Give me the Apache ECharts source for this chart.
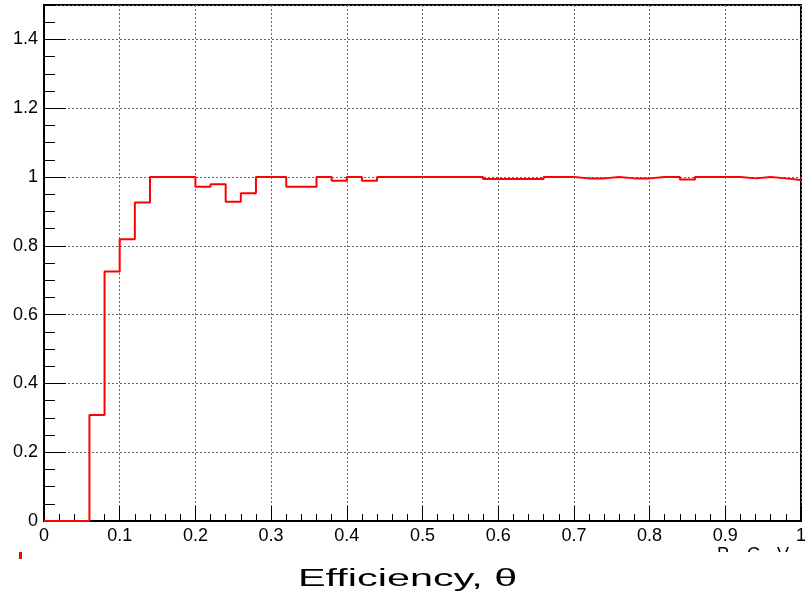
<!DOCTYPE html>
<html><head><meta charset="utf-8">
<script src="https://cdn.jsdelivr.net/npm/echarts@6/dist/echarts.min.js"></script>
<style>html,body{margin:0;padding:0;background:#fff}#c{width:809px;height:597px}</style>
</head><body><div id="c"></div>
<script>
const binEdges = [0.00,0.02,0.04,0.06,0.08,0.10,0.12,0.14,0.16,0.18,
  0.20,0.22,0.24,0.26,0.28,0.30,0.32,0.34,0.36,0.38,
  0.40,0.42,0.44,0.46,0.48,0.50,0.52,0.54,0.56,0.58,
  0.60,0.62,0.64,0.66,0.68,0.70,0.72,0.74,0.76,0.78,
  0.80,0.82,0.84,0.86,0.88,0.90,0.92,0.94,0.96,0.98,1.00];
const efficiency = [0,0,0,0.308,0.725,0.819,0.926,1,1,1,
  0.972,0.979,0.928,0.953,1,1,0.972,0.972,1,0.989,
  1,0.989,1,1,1,1,1,1,1,0.994,
  0.994,0.994,0.994,1,1,0.996,0.996,1,0.996,0.996,
  1,1,0.993,1,1,1,0.996,1,0.996,0.991];
const xTickLabels = ['0','0.1','0.2','0.3','0.4','0.5','0.6','0.7','0.8','0.9','1'];
const yTickLabels = ['0','0.2','0.4','0.6','0.8','1','1.2','1.4'];
const xTitle = 'Efficiency, \u03b8';

const pts = [];
for (let i = 0; i < efficiency.length; i++) pts.push([binEdges[i], efficiency[i]]);
pts.push([binEdges[binEdges.length-1], efficiency[efficiency.length-1]]);

const FONT = 'Liberation Sans';
const chart = echarts.init(document.getElementById('c'), null, {renderer:'canvas'});
chart.setOption({
  animation:false,
  backgroundColor:'#fff',
  grid:{left:44,right:4,top:5,bottom:76,show:true,borderColor:'#000',borderWidth:2,backgroundColor:'transparent'},
  xAxis:{type:'value',min:0,max:1,interval:0.1,
    axisLine:{lineStyle:{color:'#000',width:2}},
    axisTick:{inside:true,length:15,lineStyle:{color:'#000',width:1}},
    minorTick:{show:true,splitNumber:5,length:7,lineStyle:{color:'#000',width:1}},
    splitLine:{show:true,lineStyle:{color:'#666',width:1,type:[2,2]}},
    axisLabel:{margin:6,color:'#000',fontFamily:FONT,fontSize:18,
      formatter:v=>{const k=Math.round(v/0.1);return Math.abs(k*0.1-v)<1e-6&&xTickLabels[k]!==undefined?xTickLabels[k]:'';}}
  },
  yAxis:[{type:'value',min:0,max:1.5,interval:0.2,position:'left',
    axisLine:{show:true,lineStyle:{color:'#000',width:2}},
    axisTick:{inside:true,length:22,lineStyle:{color:'#000',width:1}},
    splitLine:{show:true,lineStyle:{color:'#666',width:1,type:[2,2]}},
    axisLabel:{margin:6,color:'#000',fontFamily:FONT,fontSize:18,showMaxLabel:false,
      formatter:v=>{const k=Math.round(v/0.2);return Math.abs(k*0.2-v)<1e-6&&yTickLabels[k]!==undefined?yTickLabels[k]:'';}}
  },{type:'value',min:0,max:1.5,interval:0.05,position:'left',offset:0,
    axisLine:{show:false},
    axisTick:{show:true,inside:true,length:11,lineStyle:{color:'#000',width:1}},
    splitLine:{show:false},axisLabel:{show:false}
  }],
  series:[{type:'line',yAxisIndex:0,data:pts,step:'end',symbol:'none',clip:false,
    lineStyle:{color:'#ff0000',width:2},z:5}],
  graphic:[
    {type:'text',x:298,y:580,scaleX:1.8,style:{text:xTitle,font:'23px "Liberation Sans"',fill:'#000',align:'left',verticalAlign:'middle'}},
    {type:'text',x:717,y:546,style:{text:'P',font:'18px "Liberation Sans"',fill:'#000',align:'left',verticalAlign:'top'}},
    {type:'text',x:747,y:546,style:{text:'G',font:'18px "Liberation Sans"',fill:'#000',align:'left',verticalAlign:'top'}},
    {type:'text',x:777,y:546,style:{text:'V',font:'18px "Liberation Sans"',fill:'#000',align:'left',verticalAlign:'top'}},
    {type:'rect',shape:{x:700,y:552,width:109,height:14},style:{fill:'#fff'},z:100},
    {type:'rect',shape:{x:19,y:552,width:3,height:7},style:{fill:'#ff0000'}}
  ]
});
</script></body></html>
